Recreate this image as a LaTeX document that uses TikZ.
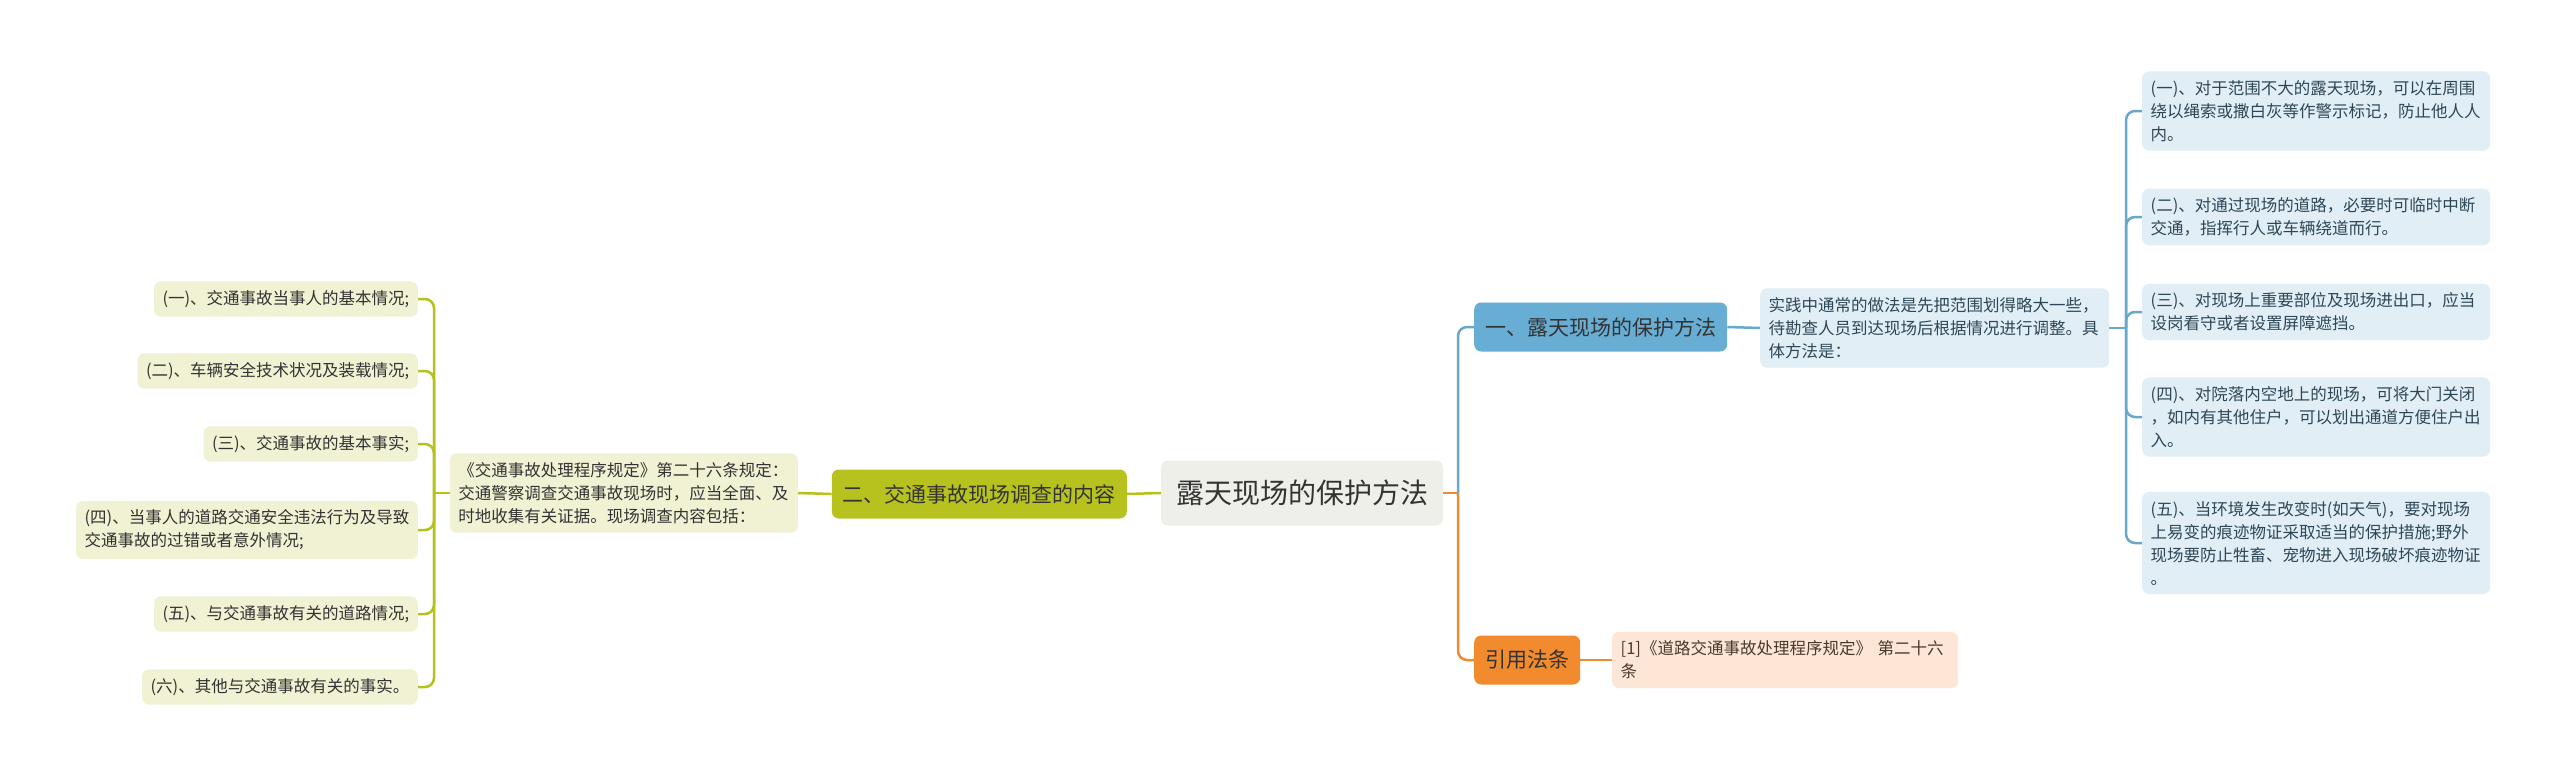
\documentclass[tikz,border=0pt]{standalone}
\usepackage{fontspec}
\setmainfont{Noto Sans CJK SC}
\usetikzlibrary{positioning}
\definecolor{rootfill}{HTML}{EFEFE9}
\definecolor{olivefill}{HTML}{B8C21E}
\definecolor{olivelight}{HTML}{F0F2D3}
\definecolor{oliveline}{HTML}{B5C11C}
\definecolor{bluefill}{HTML}{68ADD3}
\definecolor{bluelight}{HTML}{E1EEF6}
\definecolor{blueline}{HTML}{6AA8CB}
\definecolor{orangefill}{HTML}{F28A2E}
\definecolor{orangelight}{HTML}{FDE6D6}
\definecolor{orangeline}{HTML}{F08A32}
\definecolor{textdark}{HTML}{333333}
\definecolor{textblue}{HTML}{2E4756}
\definecolor{textbrown}{HTML}{4A3A2E}

\begin{document}
\begin{tikzpicture}[
    x=1pt, y=-1pt,
    box/.style={rounded corners=7pt, align=left, text=textdark},
    rootnode/.style={box, fill=rootfill, font=\fontsize{28}{34}\selectfont, minimum height=65pt, inner xsep=15pt},
    mainnode/.style={box, font=\fontsize{21}{26}\selectfont, minimum height=49pt, inner xsep=11pt},
    leafnode/.style={box, font=\fontsize{16.5}{23}\selectfont, inner xsep=8.5pt, inner ysep=9pt, minimum height=34pt},
    link/.style={line width=2.5pt, rounded corners=9pt},
]
\path[use as bounding box, fill=white] (0,0) rectangle (2560,779);

% centre
\node[rootnode] (root) at (1302,493) {露天现场的保护方法};

% left branch
\node[mainnode, fill=olivefill, anchor=east] (survey) at (1127,494) {二、交通事故现场调查的内容};
\node[leafnode, fill=olivelight, text width=331pt, anchor=east] (surveydesc) at (798,493)
    {《交通事故处理程序规定》第二十六条规定：\\交通警察调查交通事故现场时，应当全面、及\\时地收集有关证据。现场调查内容包括：};
\node[leafnode, fill=olivelight, anchor=east] (sleaf1) at (418,299) {(一)、交通事故当事人的基本情况;};
\node[leafnode, fill=olivelight, anchor=east] (sleaf2) at (418,371) {(二)、车辆安全技术状况及装载情况;};
\node[leafnode, fill=olivelight, anchor=east] (sleaf3) at (418,444) {(三)、交通事故的基本事实;};
\node[leafnode, fill=olivelight, anchor=east] (sleaf4) at (418,530) {(四)、当事人的道路交通安全违法行为及导致\\交通事故的过错或者意外情况;};
\node[leafnode, fill=olivelight, anchor=east] (sleaf5) at (418,614) {(五)、与交通事故有关的道路情况;};
\node[leafnode, fill=olivelight, anchor=east] (sleaf6) at (418,687) {(六)、其他与交通事故有关的事实。};
\coordinate (lj) at (434,493);

% right branches
\node[mainnode, fill=bluefill, anchor=west] (outdoor) at (1474,327) {一、露天现场的保护方法};
\node[leafnode, fill=bluelight, text=textblue, text width=332pt, anchor=west] (outdoordesc) at (1760,328)
    {实践中通常的做法是先把范围划得略大一些，\\待勘查人员到达现场后根据情况进行调整。具\\体方法是：};
\node[leafnode, fill=bluelight, text=textblue, text width=331pt, anchor=west] (oleaf1) at (2142,111)
    {(一)、对于范围不大的露天现场，可以在周围\\绕以绳索或撒白灰等作警示标记，防止他人人\\内。};
\node[leafnode, fill=bluelight, text=textblue, text width=331pt, anchor=west] (oleaf2) at (2142,217)
    {(二)、对通过现场的道路，必要时可临时中断\\交通，指挥行人或车辆绕道而行。};
\node[leafnode, fill=bluelight, text=textblue, text width=331pt, anchor=west] (oleaf3) at (2142,312)
    {(三)、对现场上重要部位及现场进出口，应当\\设岗看守或者设置屏障遮挡。};
\node[leafnode, fill=bluelight, text=textblue, text width=331pt, anchor=west] (oleaf4) at (2142,417)
    {(四)、对院落内空地上的现场，可将大门关闭\\，如内有其他住户，可以划出通道方便住户出\\入。};
\node[leafnode, fill=bluelight, text=textblue, text width=331pt, anchor=west] (oleaf5) at (2142,543)
    {(五)、当环境发生改变时(如天气)，要对现场\\上易变的痕迹物证采取适当的保护措施;野外\\现场要防止牲畜、宠物进入现场破坏痕迹物证\\。};
\node[mainnode, fill=orangefill, anchor=west] (lawref) at (1474,660) {引用法条};
\node[leafnode, fill=orangelight, text=textbrown, text width=329pt, anchor=west] (lawdesc) at (1612,660)
    {[1]《道路交通事故处理程序规定》 第二十六\\条};
\coordinate (rj) at (1458,493);
\coordinate (bj) at (2126,328);

% connectors
\draw[link, oliveline] (root.west) -- (survey.east);
\draw[link, oliveline] (survey.west) -- (surveydesc.east);
\draw[link, oliveline] (surveydesc.west) -- (lj);
\foreach \i in {1,...,6}
    \draw[link, oliveline] (lj) |- (sleaf\i.east);

\draw[link, blueline] (rj) |- (outdoor.west);
\draw[link, blueline] (outdoor.east) -- (outdoordesc.west);
\draw[link, blueline] (outdoordesc.east) -- (bj);
\foreach \i in {1,...,5}
    \draw[link, blueline] (bj) |- (oleaf\i.west);

\draw[link, orangeline] (root.east) -- (rj);
\draw[link, orangeline] (rj) |- (lawref.west);
\draw[link, orangeline] (lawref.east) -- (lawdesc.west);
\end{tikzpicture}
\end{document}
